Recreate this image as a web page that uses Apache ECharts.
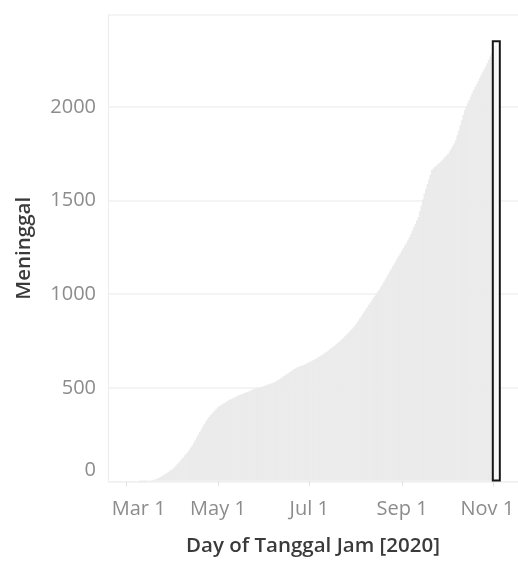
<!DOCTYPE html>
<html>
<head>
<meta charset="utf-8">
<script src="https://cdn.jsdelivr.net/npm/echarts@6/dist/echarts.min.js"></script>
<style>
html,body{margin:0;padding:0;background:#ffffff;overflow:hidden;}
#chart{width:518px;height:564px;}
</style>
</head>
<body>
<div id="chart"></div>
<script>
// ---- data (cumulative deaths per day) ----
const yTicks = [0, 500, 1000, 1500, 2000];
const xTickLabels = {
  '2020-03-01': 'Mar 1',
  '2020-05-01': 'May 1',
  '2020-07-01': 'Jul 1',
  '2020-09-01': 'Sep 1',
  '2020-11-01': 'Nov 1'
};
const axisStart = '2020-02-18';
const axisEnd = '2020-11-17';
const seriesStart = '2020-03-01';

const mar = [null,null,null,null,null,null,null,null,null,1,
             1,2,3,4,5,7,9,11,13,15,
             18,22,26,30,35,40,45,50,55,61,66];
const apr = [72,79,88,97,106,115,125,134,144,153,
             162,174,186,198,212,226,240,255,268,283,
             297,311,324,336,347,357,366,375,383,392];
const may = [400,406,411,416,421,426,431,436,440,444,
             448,453,456,460,464,467,470,473,476,480,
             483,486,490,494,498,500,503,505,507,509,511];
const jun = [514,517,520,523,526,528,531,534,539,544,
             549,554,560,566,571,577,582,588,593,599,
             605,609,612,616,619,622,625,628,632,636];
const jul = [640,644,648,652,657,661,666,671,676,681,
             687,692,698,704,710,716,722,729,735,742,
             749,756,763,771,779,787,795,803,812,821,830];
const aug = [841,852,864,876,888,900,912,924,935,947,
             959,971,983,995,1007,1019,1030,1042,1056,1069,
             1083,1097,1111,1125,1139,1153,1167,1181,1195,1209,1222];
const sep = [1236,1249,1263,1277,1291,1308,1325,1343,1361,1379,
             1397,1416,1446,1477,1509,1541,1566,1591,1616,1641,
             1666,1675,1683,1690,1697,1704,1711,1719,1728,1737];
const oct = [1746,1755,1767,1780,1795,1810,1826,1852,1878,1905,
             1932,1960,1987,2005,2023,2040,2058,2076,2094,2111,
             2126,2141,2157,2172,2188,2203,2218,2236,2254,2272,2290];
const nov = [2308,2330,2355];

const highlightDate = '2020-11-03';
const highlightValue = 2355;

// ---- build axis categories and aligned series ----
const dayMs = 86400000;
const toTime = s => Date.parse(s + 'T00:00:00Z');
const categories = [];
for (let t = toTime(axisStart); t <= toTime(axisEnd); t += dayMs) {
  categories.push(new Date(t).toISOString().slice(0, 10));
}
const daily = [].concat(mar, apr, may, jun, jul, aug, sep, oct, nov);
const offset = Math.round((toTime(seriesStart) - toTime(axisStart)) / dayMs);
const baseData = categories.map((c, i) => {
  const k = i - offset;
  return (k >= 0 && k < daily.length) ? daily[k] : null;
});
const hiData = categories.map(c => c === highlightDate ? highlightValue : null);

const FONT = '"Open Sans", "Noto Sans", sans-serif';
const labelColor = '#8c8c8c';
const titleColor = '#3a3a3a';
const fill = '#ebebeb';
const LFS = 20;

const chart = echarts.init(document.getElementById('chart'), null, {renderer: 'canvas'});
chart.setOption({
  animation: false,
  backgroundColor: '#ffffff',
  grid: {left: 108, right: 0, top: 15, bottom: 82.5, containLabel: false, outerBoundsMode: 'none'},
  xAxis: [{
    type: 'category',
    data: categories,
    boundaryGap: true,
    name: 'Day of Tanggal Jam [2020]',
    nameLocation: 'middle',
    nameGap: 53,
    nameTextStyle: {fontFamily: FONT, fontSize: 20.5, fontWeight: 600, color: titleColor, lineHeight: 24},
    axisLine: {show: true, lineStyle: {color: '#f0f0f0', width: 1}},
    axisTick: {
      show: true, alignWithLabel: true, length: 5,
      interval: (i, v) => Object.prototype.hasOwnProperty.call(xTickLabels, v),
      lineStyle: {color: '#e3e3e3'}
    },
    axisLabel: {
      show: true,
      margin: 17,
      hideOverlap: false,
      interval: (i, v) => Object.prototype.hasOwnProperty.call(xTickLabels, v),
      fontFamily: FONT, fontSize: LFS, color: labelColor, lineHeight: 22,
      formatter: v => {
        const t = xTickLabels[v] || '';
        if (v === '2020-03-01') return '{l|' + t + '}';
        if (v === '2020-11-01') return '{r|' + t + '}';
        return '{n|' + t + '}';
      },
      rich: {
        n: {fontFamily: FONT, fontSize: LFS, color: labelColor, lineHeight: 22},
        l: {fontFamily: FONT, fontSize: LFS, color: labelColor, lineHeight: 22, padding: [0, 0, 0, 24]},
        r: {fontFamily: FONT, fontSize: LFS, color: labelColor, lineHeight: 22, padding: [0, 12, 0, 0]}
      }
    },
    splitLine: {show: false}
  }, {
    type: 'category',
    data: categories,
    boundaryGap: true,
    show: false
  }],
  yAxis: {
    type: 'value',
    min: 0,
    max: 2490,
    interval: 500,
    name: 'Meninggal',
    nameLocation: 'middle',
    nameGap: 73,
    nameTextStyle: {fontFamily: FONT, fontSize: 20.5, fontWeight: 600, color: titleColor},
    axisLine: {show: true, lineStyle: {color: '#ececec', width: 1}},
    axisTick: {show: false},
    axisLabel: {
      margin: 12,
      fontFamily: FONT, fontSize: LFS, color: labelColor,
      formatter: v => yTicks.indexOf(v) < 0 ? '' : (v === 0 ? '{z|0}' : '{n|' + v + '}'),
      rich: {
        n: {fontFamily: FONT, fontSize: LFS, color: labelColor},
        z: {fontFamily: FONT, fontSize: LFS, color: labelColor, padding: [0, 0, 23, 0]}
      }
    },
    splitLine: {show: true, lineStyle: {color: '#f1f1f1', width: 1.5}}
  },
  series: [{
    type: 'bar',
    xAxisIndex: 0,
    data: baseData,
    barCategoryGap: '0%',
    itemStyle: {color: fill, borderColor: fill, borderWidth: 2},
    emphasis: {disabled: true},
    silent: true
  }, {
    type: 'bar',
    xAxisIndex: 1,
    data: hiData,
    barWidth: 9,
    itemStyle: {color: 'rgba(255,255,255,0.55)', borderColor: '#161616', borderWidth: 2},
    emphasis: {disabled: true},
    silent: true,
    z: 5
  }]
});
</script>
</body>
</html>
